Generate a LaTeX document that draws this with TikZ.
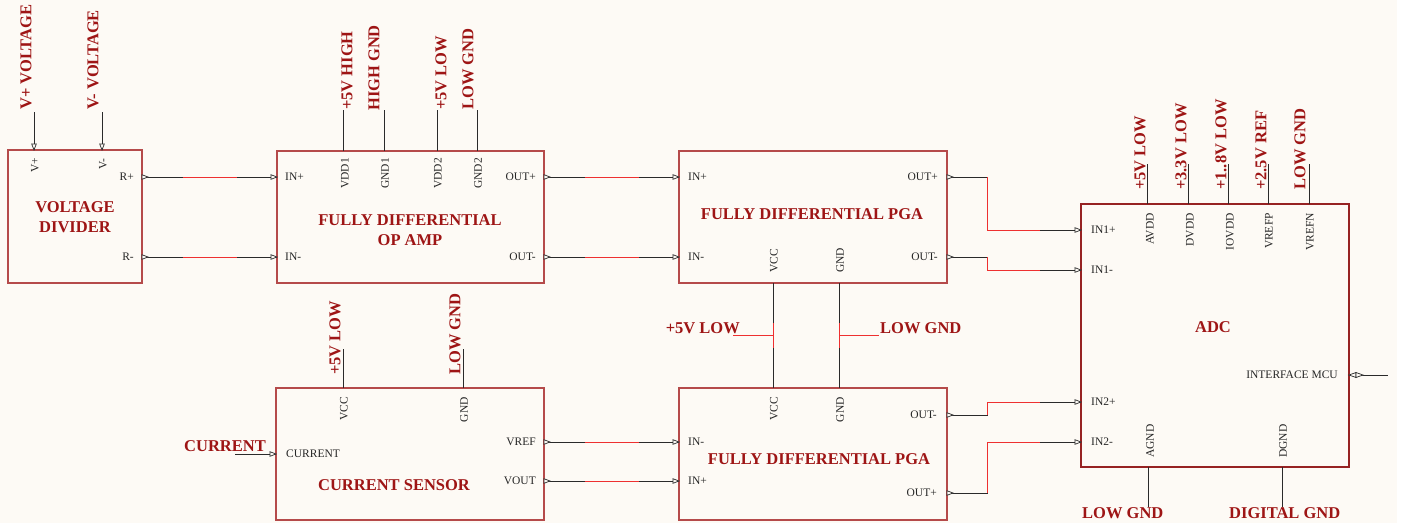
\documentclass[tikz,border=0pt]{standalone}
\usepackage{fontspec}
\setmainfont{Liberation Serif}
\usetikzlibrary{calc}
\definecolor{bgc}{HTML}{FDFAF5}
\definecolor{lbl}{HTML}{9E1515}
\definecolor{boxc}{HTML}{B54A4A}
\definecolor{adcc}{HTML}{962222}
\definecolor{wirec}{HTML}{2A2A2A}
\definecolor{redc}{HTML}{EE3030}
\tikzset{
  blk/.style={draw=boxc, line width=1.1pt, fill=bgc, inner sep=0pt, outer sep=0pt, anchor=north west},
  wire/.style={draw=wirec, line width=0.9pt},
  redw/.style={draw=redc, line width=0.9pt},
  pinlbl/.style={font=\fontsize{11.5}{13}\selectfont, text=black!85, inner sep=0pt},
  netlbl/.style={font=\bfseries\fontsize{16.5}{19.8}\selectfont, text=lbl, inner sep=0pt},
  titlelbl/.style={font=\bfseries\fontsize{16.5}{20}\selectfont, text=lbl, align=center, inner sep=0pt},
  pinsym/.style={draw=wirec, line width=0.7pt, fill=bgc},
  tri/.pic={\draw[pinsym] (0,-2.3) -- (6,0) -- (0,2.3) -- cycle;},
  bidir/.pic={\draw[pinsym] (0,0) -- (7,-2.5) -- (7,2.5) -- cycle; \draw[pinsym] (7,-2.5) -- (14,0) -- (7,2.5) -- cycle;}
}
\begin{document}
\begin{tikzpicture}[x=1pt,y=-1pt]
\useasboundingbox (0,0) rectangle (1409,523);
\fill[white] (0,0) rectangle (1409,523);
\fill[bgc] (0,0) rectangle (1397,523);

% blocks
\node[blk, minimum width=134pt, minimum height=133pt] (vd) at (8,150) {};
\node[blk, minimum width=267pt, minimum height=132pt] (oa) at (277,151) {};
\node[blk, minimum width=268pt, minimum height=132pt] (pgat) at (679,151) {};
\node[blk, draw=adcc, minimum width=268pt, minimum height=263pt] (adc) at (1081,204) {};
\node[blk, minimum width=268pt, minimum height=132pt] (cs) at (276,388) {};
\node[blk, minimum width=268pt, minimum height=132pt] (pgab) at (679,388) {};

% pin coordinates
\coordinate (vdVp) at (34,150); \coordinate (vdVm) at (102,150);
\coordinate (vdRp) at (142,177); \coordinate (vdRm) at (142,257);
\coordinate (oaINp) at (277,177); \coordinate (oaINm) at (277,257);
\coordinate (oaOUTp) at (544,177); \coordinate (oaOUTm) at (544,257);
\coordinate (oaVDDa) at (343,151); \coordinate (oaGNDa) at (384,151);
\coordinate (oaVDDb) at (437,151); \coordinate (oaGNDb) at (477,151);
\coordinate (pgatINp) at (679,177); \coordinate (pgatINm) at (679,257);
\coordinate (pgatOUTp) at (947,177); \coordinate (pgatOUTm) at (947,257);
\coordinate (pgatVCC) at (773,283); \coordinate (pgatGND) at (839,283);
\coordinate (pgabVCC) at (773,388); \coordinate (pgabGND) at (839,388);
\coordinate (pgabINm) at (679,442); \coordinate (pgabINp) at (679,481);
\coordinate (pgabOUTm) at (947,415); \coordinate (pgabOUTp) at (947,493);
\coordinate (csVCC) at (343,388); \coordinate (csGND) at (463,388);
\coordinate (csCUR) at (276,454); \coordinate (csVREF) at (544,442); \coordinate (csVOUT) at (544,481);
\coordinate (adcINap) at (1081,230); \coordinate (adcINam) at (1081,270);
\coordinate (adcINbp) at (1081,402); \coordinate (adcINbm) at (1081,442);
\coordinate (adcMCU) at (1349,375);
\coordinate (adcAVDD) at (1147,204); \coordinate (adcDVDD) at (1188,204);
\coordinate (adcIOVDD) at (1228,204); \coordinate (adcVREFP) at (1268,204);
\coordinate (adcVREFN) at (1309,204);
\coordinate (adcAGND) at (1148,467); \coordinate (adcDGND) at (1282,467);
\coordinate (mcuEnd) at (1388,375);
\coordinate (curEnd) at (235,454);

% power / net stubs
\draw[wire] (vdVp) -- ++(0,-38);
\draw[wire] (vdVm) -- ++(0,-38);
\foreach \p in {oaVDDa,oaGNDa,oaVDDb,oaGNDb} {\draw[wire] (\p) -- ++(0,-41);}
\foreach \p in {adcAVDD,adcDVDD,adcIOVDD,adcVREFP,adcVREFN} {\draw[wire] (\p) -- ++(0,-40);}
\draw[wire] (csVCC) -- ++(0,-39);
\draw[wire] (csGND) -- ++(0,-39);
\draw[wire] (adcAGND) -- ++(0,40);
\draw[wire] (adcDGND) -- ++(0,40);
\draw[wire] (curEnd) -- (csCUR);
\draw[wire] (adcMCU) -- (mcuEnd);

% signal wires
\foreach \a/\b in {vdRp/oaINp, vdRm/oaINm, oaOUTp/pgatINp, oaOUTm/pgatINm, csVREF/pgabINm, csVOUT/pgabINp} {
  \draw[wire] (\a) -- (\b);
  \draw[redw] ($(\a)!.3!(\b)$) -- ($(\a)!.7!(\b)$);
}
\draw[wire] (pgatOUTp) -- ++(40,0) |- (adcINap);
\draw[redw] ($(pgatOUTp)+(40,0)$) |- ($(adcINap)+(-41,0)$);
\draw[wire] (pgatOUTm) -- ++(40,0) |- (adcINam);
\draw[redw] ($(pgatOUTm)+(40,0)$) |- ($(adcINam)+(-41,0)$);
\draw[wire] (pgabOUTm) -- ++(40,0) |- (adcINbp);
\draw[redw] ($(pgabOUTm)+(40,0)$) |- ($(adcINbp)+(-41,0)$);
\draw[wire] (pgabOUTp) -- ++(40,0) |- (adcINbm);
\draw[redw] ($(pgabOUTp)+(40,0)$) |- ($(adcINbm)+(-41,0)$);

% PGA supply links
\draw[wire] (pgatVCC) -- (pgabVCC);
\draw[wire] (pgatGND) -- (pgabGND);
\draw[redw] (773,323) -- (773,348);
\draw[redw] (839,323) -- (839,348);
\draw[redw] (733,335) -- (773,335);
\draw[redw] (839,335) -- (879,335);

% pin symbols
\pic[rotate=-90] at ($(vdVp)+(0,-6)$) {tri};
\pic[rotate=-90] at ($(vdVm)+(0,-6)$) {tri};
\foreach \p in {vdRp,vdRm,oaOUTp,oaOUTm,pgatOUTp,pgatOUTm,pgabOUTm,pgabOUTp,csVREF,csVOUT} {\pic at (\p) {tri};}
\foreach \p in {oaINp,oaINm,pgatINp,pgatINm,pgabINm,pgabINp,csCUR,adcINap,adcINam,adcINbp,adcINbm} {\pic at ($(\p)+(-6,0)$) {tri};}
\pic at (adcMCU) {bidir};

% pin labels
\node[pinlbl, rotate=90, anchor=east] (tVp) at (35,158) {V+};
\node[pinlbl, rotate=90, anchor=east] (tVm) at (103,158) {V-};
\node[pinlbl, anchor=east] (tRp) at (134,177) {R+};
\node[pinlbl, anchor=east] (tRm) at (134,257) {R-};

\node[pinlbl, anchor=west] (toaINp) at (285,177) {IN+};
\node[pinlbl, anchor=west] (toaINm) at (285,257) {IN-};
\node[pinlbl, anchor=east] (toaOUTp) at (536,177) {OUT+};
\node[pinlbl, anchor=east] (toaOUTm) at (536,257) {OUT-};
\node[pinlbl, rotate=90, anchor=east] (toaV1) at (345,158) {VDD1};
\node[pinlbl, rotate=90, anchor=east] (toaG1) at (385,158) {GND1};
\node[pinlbl, rotate=90, anchor=east] (toaV2) at (438,158) {VDD2};
\node[pinlbl, rotate=90, anchor=east] (toaG2) at (478,158) {GND2};

\node[pinlbl, anchor=west] (tptINp) at (688,177) {IN+};
\node[pinlbl, anchor=west] (tptINm) at (688,257) {IN-};
\node[pinlbl, anchor=east] (tptOUTp) at (938,177) {OUT+};
\node[pinlbl, anchor=east] (tptOUTm) at (938,257) {OUT-};
\node[pinlbl, rotate=90, anchor=west] (tptVCC) at (774,273) {VCC};
\node[pinlbl, rotate=90, anchor=west] (tptGND) at (840,273) {GND};

\node[pinlbl, rotate=90, anchor=east] (tpbVCC) at (774,397) {VCC};
\node[pinlbl, rotate=90, anchor=east] (tpbGND) at (840,397) {GND};
\node[pinlbl, anchor=east] (tpbOUTm) at (937,415) {OUT-};
\node[pinlbl, anchor=east] (tpbOUTp) at (937,493) {OUT+};
\node[pinlbl, anchor=west] (tpbINm) at (688,442) {IN-};
\node[pinlbl, anchor=west] (tpbINp) at (688,481) {IN+};

\node[pinlbl, rotate=90, anchor=east] (tcsVCC) at (344,397) {VCC};
\node[pinlbl, rotate=90, anchor=east] (tcsGND) at (464,397) {GND};
\node[pinlbl, anchor=west] (tcsCUR) at (286,454) {CURRENT};
\node[pinlbl, anchor=east] (tcsVREF) at (536,442) {VREF};
\node[pinlbl, anchor=east] (tcsVOUT) at (536,481) {VOUT};

\node[pinlbl, anchor=west] (tadcA) at (1091,230) {IN1+};
\node[pinlbl, anchor=west] (tadcB) at (1091,270) {IN1-};
\node[pinlbl, anchor=west] (tadcC) at (1091,402) {IN2+};
\node[pinlbl, anchor=west] (tadcD) at (1091,442) {IN2-};
\node[pinlbl, anchor=east] (tadcMCU) at (1338,375) {INTERFACE MCU};
\node[pinlbl, rotate=90, anchor=east] (tadcAVDD) at (1150,213) {AVDD};
\node[pinlbl, rotate=90, anchor=east] (tadcDVDD) at (1190,213) {DVDD};
\node[pinlbl, rotate=90, anchor=east] (tadcIOVDD) at (1230,213) {IOVDD};
\node[pinlbl, rotate=90, anchor=east] (tadcVREFP) at (1269,213) {VREFP};
\node[pinlbl, rotate=90, anchor=east] (tadcVREFN) at (1310,213) {VREFN};
\node[pinlbl, rotate=90, anchor=west] (tadcAGND) at (1150,458) {AGND};
\node[pinlbl, rotate=90, anchor=west] (tadcDGND) at (1283,458) {DGND};

% net labels (rotated)
\node[netlbl, rotate=90, anchor=west] (nVp) at (26,110) {V+ VOLTAGE};
\node[netlbl, rotate=90, anchor=west] (nVm) at (93,110) {V- VOLTAGE};
\node[netlbl, rotate=90, anchor=west] (nHi) at (347,110) {+5V HIGH};
\node[netlbl, rotate=90, anchor=west] (nHg) at (374,111) {HIGH GND};
\node[netlbl, rotate=90, anchor=west] (nLo) at (441,110) {+5V LOW};
\node[netlbl, rotate=90, anchor=west] (nLg) at (468,110) {LOW GND};
\node[netlbl, rotate=90, anchor=west] (ncs5) at (335,375) {+5V LOW};
\node[netlbl, rotate=90, anchor=west] (ncsG) at (455,375) {LOW GND};
\node[netlbl, rotate=90, anchor=west] (nad5) at (1140,190) {+5V LOW};
\node[netlbl, rotate=90, anchor=west] (nad33) at (1181,190) {+3.3V LOW};
\node[netlbl, rotate=90, anchor=west] (nad18) at (1221,190) {+1..8V LOW};
\node[netlbl, rotate=90, anchor=west] (nad25) at (1261,190) {+2.5V REF};
\node[netlbl, rotate=90, anchor=west] (nadG) at (1300,190) {LOW GND};

% net labels (horizontal)
\node[netlbl, anchor=base east] (npg5) at (740,333) {+5V LOW};
\node[netlbl, anchor=base west] (npgG) at (880,333) {LOW GND};
\node[netlbl, anchor=base east] (ncur) at (266,451) {CURRENT};
\node[netlbl, anchor=base west] (nlg) at (1082,518) {LOW GND};
\node[netlbl, anchor=base west] (ndg) at (1229,518) {DIGITAL GND};

% titles
\node[titlelbl] (ttvd) at (75,217) {VOLTAGE\\DIVIDER};
\node[titlelbl] (ttoa) at (410,230) {FULLY DIFFERENTIAL\\OP AMP};
\node[titlelbl] (ttpt) at (812,214) {FULLY DIFFERENTIAL PGA};
\node[titlelbl] (ttpb) at (819,459) {FULLY DIFFERENTIAL PGA};
\node[titlelbl] (ttcs) at (394,485) {CURRENT SENSOR};
\node[titlelbl] (ttadc) at (1213,327) {ADC};
\end{tikzpicture}
\end{document}
